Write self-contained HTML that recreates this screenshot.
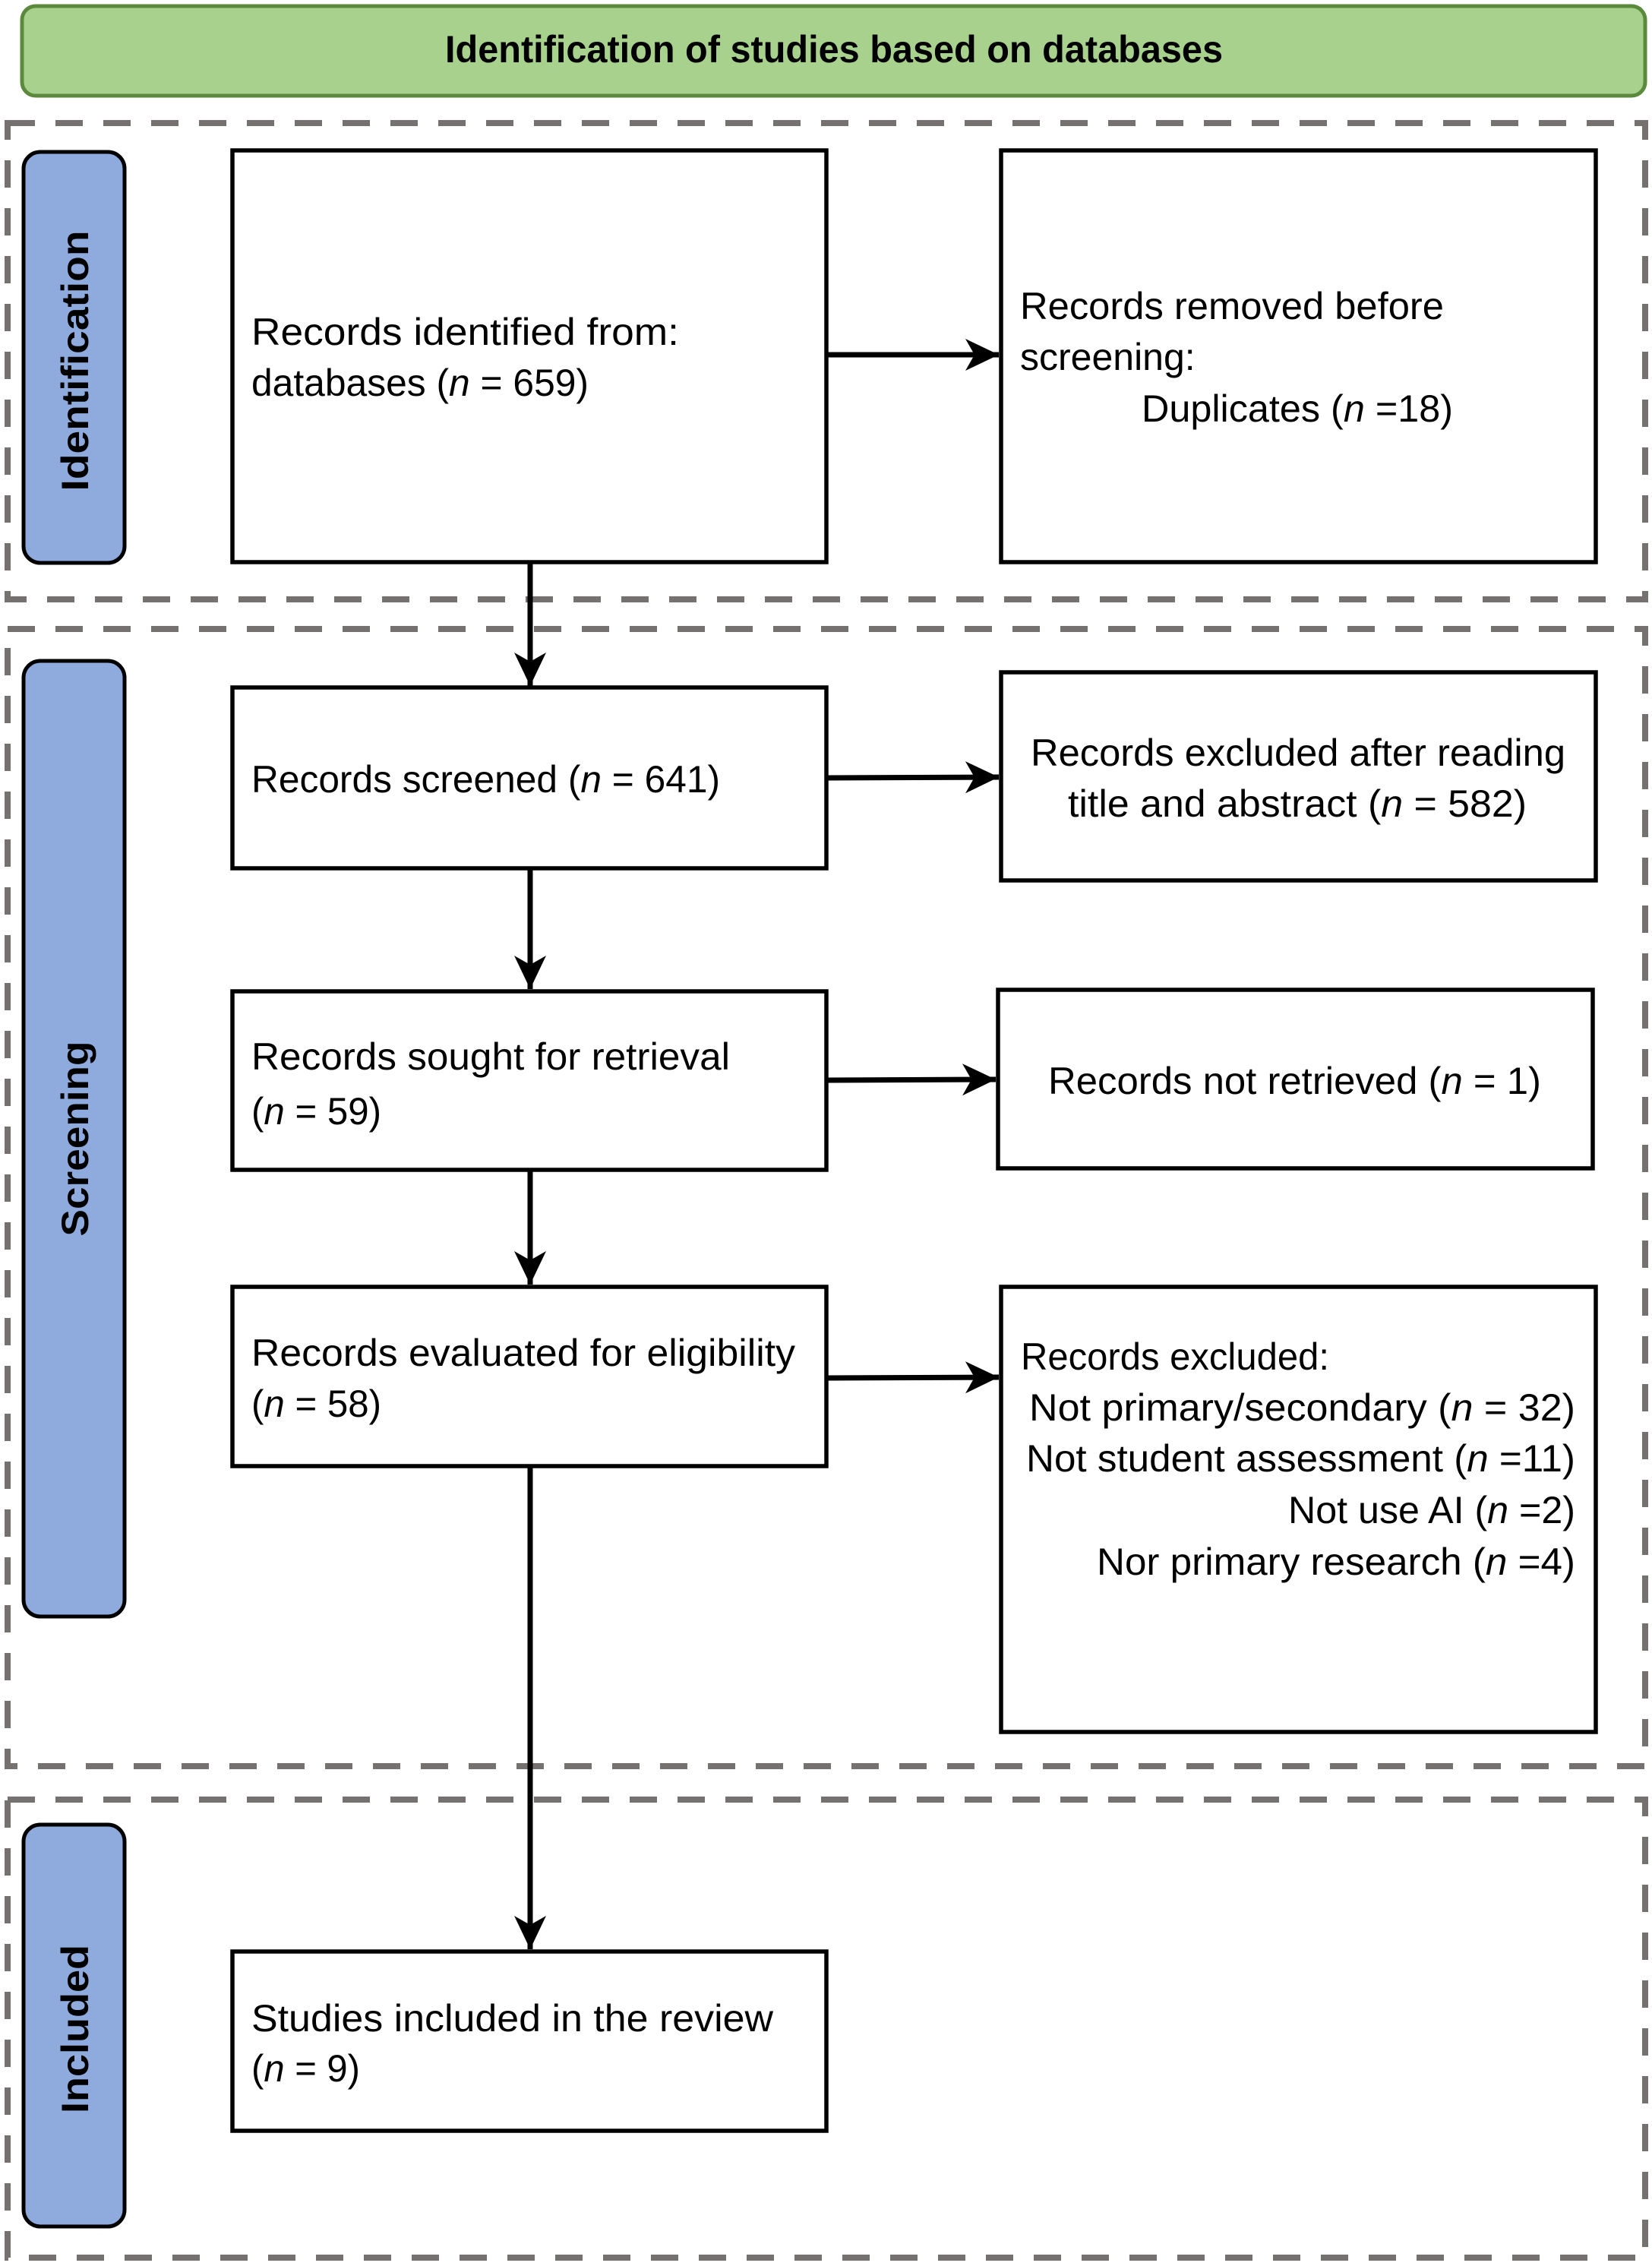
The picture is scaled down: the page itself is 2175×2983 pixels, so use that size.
<!DOCTYPE html>
<html><head><meta charset="utf-8"><style>
html,body{margin:0;padding:0;background:#fff;}
svg{display:block;}
text{font-family:"Liberation Sans",sans-serif;font-size:50px;fill:#000;}
.b{font-weight:bold;}
</style></head><body>
<svg width="2175" height="2983" viewBox="0 0 2175 2983" xmlns="http://www.w3.org/2000/svg">
<defs>
<marker id="ah" markerWidth="46" markerHeight="46" refX="44" refY="23" orient="auto" markerUnits="userSpaceOnUse">
<path d="M0,2 L44,23 L0,44 L12,23 Z" fill="#000"/>
</marker>
</defs>
<rect x="29" y="8" width="2137" height="118" rx="18" fill="#a9d18e" stroke="#5b8a3c" stroke-width="5"/>
<text class="b" x="1098" y="82" text-anchor="middle" font-size="46" textLength="1024" lengthAdjust="spacingAndGlyphs">Identification of studies based on databases</text>
<g fill="none" stroke="#767171" stroke-width="8" stroke-dasharray="36,27">
<rect x="10" y="162" width="2156" height="627"/>
<rect x="10" y="828" width="2156" height="1497"/>
<rect x="10" y="2369" width="2156" height="603"/>
</g>
<g fill="#8faadc" stroke="#000" stroke-width="5">
<rect x="31" y="200" width="133" height="541" rx="22"/>
<rect x="31" y="870" width="133" height="1258" rx="22"/>
<rect x="31" y="2402" width="133" height="529" rx="22"/>
</g>
<text class="b" transform="translate(116,475) rotate(-90)" text-anchor="middle" font-size="56" textLength="343" lengthAdjust="spacingAndGlyphs">Identification</text>
<text class="b" transform="translate(116,1499) rotate(-90)" text-anchor="middle" font-size="56" textLength="257" lengthAdjust="spacingAndGlyphs">Screening</text>
<text class="b" transform="translate(116,2671) rotate(-90)" text-anchor="middle" font-size="56" textLength="222" lengthAdjust="spacingAndGlyphs">Included</text>
<g fill="#fff" stroke="#000" stroke-width="5.5">
<rect x="306" y="198" width="782" height="542"/>
<rect x="1318" y="198" width="783" height="542"/>
<rect x="306" y="905" width="782" height="238"/>
<rect x="1318" y="885" width="783" height="274"/>
<rect x="306" y="1305" width="782" height="235"/>
<rect x="1314" y="1303" width="783" height="235"/>
<rect x="306" y="1694" width="782" height="236"/>
<rect x="1318" y="1694" width="783" height="586"/>
<rect x="306" y="2569" width="782" height="236"/>
</g>
<g stroke="#000" stroke-width="7" fill="none" marker-end="url(#ah)">
<line x1="698" y1="742" x2="698" y2="903"/>
<line x1="698" y1="1145" x2="698" y2="1302"/>
<line x1="698" y1="1542" x2="698" y2="1691"/>
<line x1="698" y1="1932" x2="698" y2="2566"/>
<line x1="1090" y1="467" x2="1315" y2="467"/>
<line x1="1090" y1="1024" x2="1315" y2="1023"/>
<line x1="1090" y1="1422" x2="1311" y2="1421"/>
<line x1="1090" y1="1814" x2="1315" y2="1813"/>
</g>
<text x="331" y="454" textLength="563" lengthAdjust="spacingAndGlyphs">Records identified from:</text>
<text x="331" y="521" textLength="444" lengthAdjust="spacingAndGlyphs">databases (<tspan font-style="italic">n</tspan> = 659)</text>
<text x="1343" y="420" textLength="558" lengthAdjust="spacingAndGlyphs">Records removed before</text>
<text x="1343" y="487">screening:</text>
<text x="1503" y="555" textLength="410" lengthAdjust="spacingAndGlyphs">Duplicates (<tspan font-style="italic">n</tspan> =18)</text>
<text x="331" y="1043" textLength="617" lengthAdjust="spacingAndGlyphs">Records screened (<tspan font-style="italic">n</tspan> = 641)</text>
<text x="1357" y="1008" textLength="704" lengthAdjust="spacingAndGlyphs">Records excluded after reading</text>
<text x="1406" y="1075" textLength="604" lengthAdjust="spacingAndGlyphs">title and abstract (<tspan font-style="italic">n</tspan> = 582)</text>
<text x="331" y="1408" textLength="630" lengthAdjust="spacingAndGlyphs">Records sought for retrieval</text>
<text x="331" y="1480" textLength="171" lengthAdjust="spacingAndGlyphs">(<tspan font-style="italic">n</tspan> = 59)</text>
<text x="1380" y="1440" textLength="649" lengthAdjust="spacingAndGlyphs">Records not retrieved (<tspan font-style="italic">n</tspan> = 1)</text>
<text x="331" y="1798" textLength="716" lengthAdjust="spacingAndGlyphs">Records evaluated for eligibility</text>
<text x="331" y="1865" textLength="171" lengthAdjust="spacingAndGlyphs">(<tspan font-style="italic">n</tspan> = 58)</text>
<text x="1344" y="1803" textLength="406" lengthAdjust="spacingAndGlyphs">Records excluded:</text>
<text x="1355" y="1870" textLength="719" lengthAdjust="spacingAndGlyphs">Not primary/secondary (<tspan font-style="italic">n</tspan> = 32)</text>
<text x="1351" y="1937" textLength="723" lengthAdjust="spacingAndGlyphs">Not student assessment (<tspan font-style="italic">n</tspan> =11)</text>
<text x="1696" y="2005" textLength="378" lengthAdjust="spacingAndGlyphs">Not use AI (<tspan font-style="italic">n</tspan> =2)</text>
<text x="1444" y="2073" textLength="630" lengthAdjust="spacingAndGlyphs">Nor primary research (<tspan font-style="italic">n</tspan> =4)</text>
<text x="331" y="2674" textLength="687" lengthAdjust="spacingAndGlyphs">Studies included in the review</text>
<text x="331" y="2740" textLength="143" lengthAdjust="spacingAndGlyphs">(<tspan font-style="italic">n</tspan> = 9)</text>
</svg>
</body></html>
